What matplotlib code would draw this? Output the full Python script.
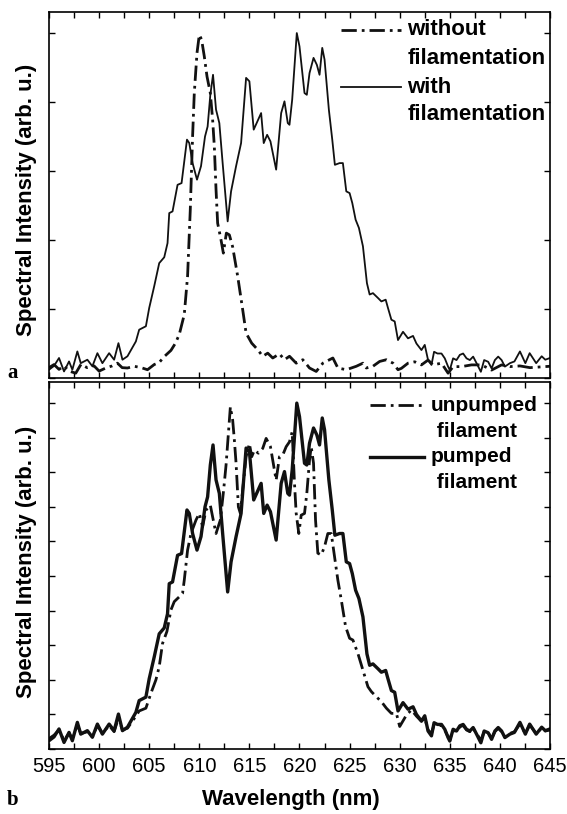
import matplotlib
matplotlib.use("Agg")
import matplotlib.pyplot as plt
from matplotlib.ticker import MultipleLocator, NullFormatter

plt.rcParams['font.family'] = ['Liberation Sans', 'DejaVu Sans']

# with filamentation (panel a) == pumped filament (panel b)
wl_with = [595.0, 595.5, 596.0, 596.5, 597.0, 597.33, 597.83, 598.17, 598.83, 599.33,
           599.83, 600.33, 601.0, 601.5, 601.93, 602.33, 602.83, 603.67, 604.0, 604.67,
           605.0, 605.5, 606.0, 606.5, 606.83, 607.0, 607.33, 607.83, 608.23, 608.77,
           609.0, 609.33, 609.77, 610.17, 610.57, 610.83, 611.1, 611.37, 611.67, 612.0,
           612.33, 612.83, 613.17, 613.67, 614.17, 614.67, 615.0, 615.43, 616.17, 616.43,
           616.77, 617.1, 617.67, 618.17, 618.5, 618.83, 619.0, 619.27, 619.73, 620.0,
           620.5, 620.73, 621.0, 621.4, 621.73, 622.0, 622.27, 622.5, 622.93, 623.27,
           623.53, 624.0, 624.33, 624.67, 625.0, 625.27, 625.6, 625.93, 626.33, 626.73,
           627.0, 627.33, 627.83, 628.17, 628.6, 628.83, 629.17, 629.5, 629.83, 630.33,
           630.83, 631.33, 631.67, 632.17, 632.5, 632.83, 633.17, 633.43, 633.77, 634.17,
           634.5, 634.83, 635.0, 635.33, 635.67, 636.0, 636.33, 636.67, 637.0, 637.33,
           637.67, 638.1, 638.43, 638.83, 639.17, 639.5, 639.83, 640.17, 640.5, 641.0,
           641.45, 642.0, 642.54, 642.97, 643.62, 644.17, 644.53, 645.0]
int_with = [0.024, 0.035, 0.058, 0.019, 0.048, 0.024, 0.077, 0.043, 0.053, 0.034,
            0.072, 0.043, 0.072, 0.053, 0.101, 0.053, 0.063, 0.106, 0.14, 0.15,
            0.203, 0.266, 0.333, 0.35, 0.391, 0.478, 0.483, 0.56, 0.565, 0.691,
            0.681, 0.623, 0.575, 0.614, 0.7, 0.729, 0.821, 0.879, 0.778, 0.739,
            0.623, 0.454, 0.541, 0.614, 0.681, 0.87, 0.86, 0.72, 0.768, 0.681,
            0.705, 0.686, 0.604, 0.768, 0.802, 0.739, 0.734, 0.807, 1.0, 0.961,
            0.826, 0.821, 0.884, 0.928, 0.908, 0.879, 0.957, 0.923, 0.778, 0.691,
            0.618, 0.623, 0.623, 0.541, 0.536, 0.507, 0.459, 0.435, 0.382, 0.275,
            0.242, 0.246, 0.232, 0.222, 0.227, 0.203, 0.169, 0.164, 0.11, 0.134,
            0.115, 0.122, 0.1, 0.081, 0.096, 0.052, 0.038, 0.076, 0.071, 0.071,
            0.057, 0.033, 0.023, 0.057, 0.052, 0.067, 0.071, 0.057, 0.052, 0.062,
            0.043, 0.018, 0.052, 0.047, 0.028, 0.052, 0.062, 0.052, 0.033, 0.043,
            0.048, 0.077, 0.043, 0.072, 0.043, 0.063, 0.053, 0.058]

# without filamentation (panel a)
wl_without = [595.0, 595.5, 596.0, 596.5, 597.0, 597.67, 598.2, 598.8, 599.5, 600.0,
              600.67, 601.3, 601.83, 602.3, 602.83, 603.5, 604.2, 604.83, 605.5, 606.0,
              606.5, 607.17, 607.6, 608.0, 608.5, 608.83, 609.1, 609.33, 609.5, 609.77,
              610.0, 610.23, 610.5, 610.77, 611.1, 611.33, 611.5, 611.67, 611.83, 612.17,
              612.4, 612.7, 613.0, 613.33, 613.83, 614.33, 614.67, 615.23, 615.83, 616.33,
              616.83, 617.33, 618.0, 618.5, 619.0, 619.67, 620.33, 621.0, 621.67, 622.33,
              623.33, 623.83, 624.67, 625.67, 626.33, 626.67, 627.33, 628.0, 628.67, 629.33,
              629.83, 630.17, 630.83, 631.5, 632.17, 632.83, 633.33, 634.17, 634.83, 635.33,
              636.17, 637.17, 638.17, 639.17, 640.17, 641.0, 642.0, 643.0, 644.0, 645.0]
int_without = [0.03, 0.039, 0.025, 0.035, 0.02, 0.014, 0.04, 0.03, 0.035, 0.02,
               0.029, 0.035, 0.043, 0.03, 0.029, 0.034, 0.03, 0.024, 0.039, 0.045,
               0.062, 0.08, 0.1, 0.126, 0.184, 0.295, 0.488, 0.7, 0.826, 0.942,
               0.995, 0.981, 0.932, 0.874, 0.826, 0.749, 0.671, 0.546, 0.449, 0.4,
               0.362, 0.42, 0.415, 0.38, 0.295, 0.198, 0.13, 0.101, 0.082, 0.063,
               0.072, 0.058, 0.07, 0.053, 0.063, 0.043, 0.053, 0.029, 0.019, 0.043,
               0.058, 0.029, 0.024, 0.034, 0.043, 0.029, 0.034, 0.048, 0.053, 0.043,
               0.024, 0.028, 0.043, 0.047, 0.038, 0.052, 0.038, 0.043, 0.014, 0.033,
               0.033, 0.038, 0.038, 0.023, 0.038, 0.033, 0.035, 0.03, 0.032, 0.034]

# unpumped filament (panel b)
wl_unpumped = [595.0, 595.5, 596.0, 596.5, 597.0, 597.33, 597.83, 598.17, 598.83, 599.33,
               599.83, 600.33, 601.0, 601.5, 601.93, 602.33, 602.83, 603.67, 604.0, 604.67,
               605.17, 605.67, 606.0, 606.33, 606.77, 607.17, 607.5, 608.0, 608.33, 608.5,
               608.83, 609.17, 609.67, 610.0, 610.33, 610.67, 611.1, 611.33, 611.67, 612.1,
               612.43, 612.67, 612.9, 613.1, 613.33, 613.5, 613.67, 613.9, 614.1, 614.33,
               614.67, 615.0, 615.23, 615.5, 615.9, 616.33, 616.67, 617.1, 617.33, 617.67,
               618.0, 618.33, 618.67, 619.0, 619.27, 619.5, 619.67, 619.93, 620.17, 620.5,
               620.73, 621.0, 621.17, 621.4, 621.6, 621.83, 622.17, 622.5, 622.83, 623.17,
               623.5, 623.83, 624.17, 624.6, 625.0, 625.33, 625.83, 626.33, 626.83, 627.17,
               627.67, 628.17, 628.67, 629.17, 629.67, 630.0, 630.67, 631.17, 631.67, 632.17,
               632.5, 632.83, 633.17, 633.43, 633.77, 634.17, 634.5, 634.83, 635.0, 635.33,
               635.67, 636.0, 636.33, 636.67, 637.0, 637.33, 637.67, 638.1, 638.43, 638.83,
               639.17, 639.5, 639.83, 640.17, 640.5, 641.0, 641.45, 642.0, 642.54, 642.97,
               643.62, 644.17, 644.53, 645.0]
int_unpumped = [0.03, 0.04, 0.055, 0.025, 0.045, 0.03, 0.07, 0.045, 0.05, 0.035,
                0.068, 0.045, 0.068, 0.05, 0.09, 0.055, 0.06, 0.095, 0.11, 0.118,
                0.161, 0.2, 0.238, 0.305, 0.34, 0.402, 0.426, 0.44, 0.45, 0.488,
                0.575, 0.623, 0.662, 0.681, 0.643, 0.691, 0.705, 0.671, 0.623, 0.662,
                0.749, 0.821, 0.912, 0.989, 0.951, 0.893, 0.826, 0.7, 0.681, 0.749,
                0.845, 0.883, 0.845, 0.864, 0.855, 0.869, 0.898, 0.874, 0.835, 0.777,
                0.845, 0.85, 0.874, 0.888, 0.917, 0.768, 0.681, 0.623, 0.676, 0.681,
                0.739, 0.835, 0.874, 0.826, 0.662, 0.566, 0.561, 0.585, 0.623, 0.623,
                0.556, 0.488, 0.431, 0.354, 0.32, 0.315, 0.276, 0.228, 0.18, 0.166,
                0.151, 0.137, 0.118, 0.103, 0.103, 0.065, 0.098, 0.113, 0.095, 0.08,
                0.09, 0.055, 0.045, 0.07, 0.068, 0.068, 0.055, 0.035, 0.028, 0.055,
                0.05, 0.064, 0.068, 0.055, 0.05, 0.06, 0.045, 0.025, 0.05, 0.047,
                0.03, 0.05, 0.06, 0.05, 0.035, 0.045, 0.05, 0.072, 0.045, 0.07,
                0.045, 0.06, 0.052, 0.055]

xticks = [595, 600, 605, 610, 615, 620, 625, 630, 635, 640, 645]
legend_a = [("without", "filamentation"), ("with", "filamentation")]
legend_b = [("unpumped", " filament"), ("pumped", " filament")]
panel_labels = ["a", "b"]

W, H = 567, 814
fig = plt.figure(figsize=(W / 100, H / 100), dpi=100)
ax1 = fig.add_axes([49 / W, 1 - 378 / H, 501 / W, 366 / H])
ax2 = fig.add_axes([49 / W, 1 - 749 / H, 501 / W, 367 / H])

dashdot = (0, (5.5, 1.8, 1.0, 1.8))
ax1.plot(wl_without, int_without, color='#111111', lw=2.0, linestyle=dashdot)
ax1.plot(wl_with, int_with, color='#111111', lw=1.3)
ax2.plot(wl_unpumped, int_unpumped, color='#111111', lw=2.0, linestyle=dashdot)
ax2.plot(wl_with, int_with, color='#111111', lw=2.4)

for ax, ystep in [(ax1, 0.2), (ax2, 0.1)]:
    ax.set_xlim(595, 645)
    ax.set_ylim(0, 1.061)
    ax.set_xticks(xticks)
    ax.xaxis.set_minor_locator(MultipleLocator(2.5))
    ax.yaxis.set_major_locator(MultipleLocator(ystep))
    ax.yaxis.set_major_formatter(NullFormatter())
    ax.tick_params(which='both', direction='in', length=4, width=1,
                   top=True, right=True, labelsize=14.5, pad=6)
    for s in ax.spines.values():
        s.set_linewidth(1.2)
ax1.tick_params(labelbottom=False)

# legends drawn by hand to follow the original placement
def hand_legend(ax, entries, x0, x1, xt, ys, styles, fs):
    for (first, second), (yl, y2), (ls, lw) in zip(entries, ys, styles):
        ax.plot([x0, x1], [yl, yl], transform=ax.transAxes, color='#111111',
                lw=lw, linestyle=ls, clip_on=False)
        ax.text(xt, yl, first, transform=ax.transAxes, fontsize=fs,
                fontweight='bold', va='center', ha='left')
        ax.text(xt, y2, second, transform=ax.transAxes, fontsize=fs,
                fontweight='bold', va='center', ha='left')

hand_legend(ax1, legend_a, 0.583, 0.703, 0.715,
            [(0.951, 0.874), (0.795, 0.721)], [(dashdot, 2.0), ('-', 1.3)], 16)
hand_legend(ax2, legend_b, 0.641, 0.748, 0.762,
            [(0.937, 0.864), (0.796, 0.725)], [(dashdot, 2.0), ('-', 2.4)], 15)

fig.text(27 / W, 1 - 200 / H, "Spectral Intensity (arb. u.)", rotation=90,
         fontsize=16, fontweight='bold', ha='center', va='center')
fig.text(27 / W, 1 - 562 / H, "Spectral Intensity (arb. u.)", rotation=90,
         fontsize=16, fontweight='bold', ha='center', va='center')
fig.text(291 / W, 1 - 800 / H, "Wavelength (nm)", fontsize=16,
         fontweight='bold', ha='center', va='center')
fig.text(13 / W, 1 - 373 / H, panel_labels[0], family='Liberation Serif',
         fontsize=15, fontweight='bold', ha='center', va='center')
fig.text(13 / W, 1 - 800 / H, panel_labels[1], family='Liberation Serif',
         fontsize=15, fontweight='bold', ha='center', va='center')

fig.savefig("out.png", dpi=100)
